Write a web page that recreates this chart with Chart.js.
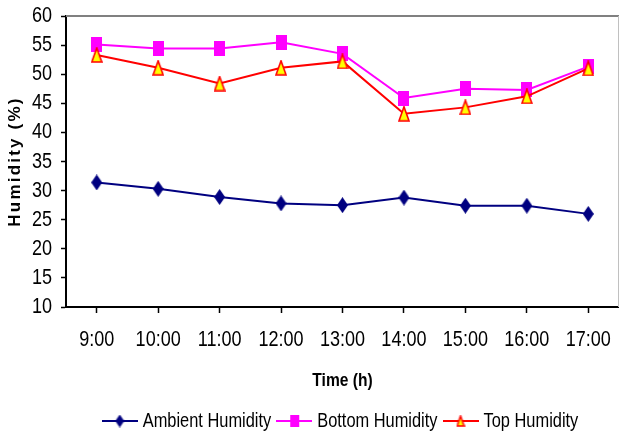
<!DOCTYPE html>
<html>
<head>
<meta charset="utf-8">
<script src="https://cdn.jsdelivr.net/npm/chart.js@4/dist/chart.umd.min.js"></script>
<style>
  body { margin: 0; background: #fff; overflow: hidden; }
  #wrap { width: 619px; height: 434px; overflow: hidden; }
  #humChart { display: block; }
</style>
</head>
<body>
<!-- canvas is a few px wider than the window: the layout keeps a small right gap we crop off -->
<div id="wrap"><canvas id="humChart" width="627" height="434"></canvas></div>
<script>
// data
const hours = ['9:00', '10:00', '11:00', '12:00', '13:00', '14:00', '15:00', '16:00', '17:00'];
const ambientHumidity = [31.4, 30.3, 28.9, 27.8, 27.5, 28.8, 27.4, 27.4, 26.0];
const bottomHumidity = [55.1, 54.4, 54.4, 55.5, 53.5, 45.9, 47.5, 47.3, 51.3];
const topHumidity = [53.3, 51.1, 48.4, 51.1, 52.2, 43.2, 44.3, 46.2, 51.0];
const seriesNames = ['Ambient Humidity', 'Bottom Humidity', 'Top Humidity'];

// no Arial Narrow here, so "Arial Narrow" text is squeezed Liberation Sans (see below)
const NARROW = "'Arial Narrow', 'Liberation Sans', sans-serif";
const TITLE = "Helvetica, 'Liberation Sans', sans-serif";
const SQUEEZE = 0.82;

const canvas = document.getElementById('humChart');
const ctx = canvas.getContext('2d');
const rawFill = ctx.fillText.bind(ctx);
const rawMeasure = ctx.measureText.bind(ctx);
ctx.fillText = function (text, x, y, maxWidth) {
  if (this.font.includes('Narrow')) {
    this.save();
    this.translate(x, y);
    this.scale(SQUEEZE, 1);
    rawFill(text, 0, 0);
    this.restore();
  } else if (this.font.includes('Helvetica')) {
    const old = this.letterSpacing;
    this.letterSpacing = '2.2px';
    rawFill(text, x, y);
    this.letterSpacing = old;
  } else {
    maxWidth === undefined ? rawFill(text, x, y) : rawFill(text, x, y, maxWidth);
  }
};
ctx.measureText = function (text) {
  const m = rawMeasure(text);
  if (!this.font.includes('Narrow')) return m;
  return { width: m.width * SQUEEZE, actualBoundingBoxAscent: m.actualBoundingBoxAscent,
    actualBoundingBoxDescent: m.actualBoundingBoxDescent };
};

// marker shapes (Excel style, a bit taller than wide)
function marker(kind, w, h) {
  const c = document.createElement('canvas');
  c.width = w; c.height = h;
  const g = c.getContext('2d');
  g.beginPath();
  if (kind === 'diamond') {
    g.moveTo(w / 2, 0); g.lineTo(w, h / 2); g.lineTo(w / 2, h); g.lineTo(0, h / 2);
    g.closePath();
    g.fillStyle = '#000080'; g.fill();
  } else if (kind === 'square') {
    g.fillStyle = '#ff00ff'; g.fillRect(0, 0, w, h);
  } else {
    g.moveTo(w / 2, 1); g.lineTo(w - 1, h - 1); g.lineTo(1, h - 1);
    g.closePath();
    g.fillStyle = '#ffff00'; g.fill();
    g.lineWidth = 1.6; g.strokeStyle = '#ff0000'; g.stroke();
  }
  return c;
}

// legend glyph: short line with the marker in the middle
function legendGlyph(kind, color) {
  const w = 36, h = 16;
  const c = document.createElement('canvas');
  c.width = w; c.height = h;
  const g = c.getContext('2d');
  g.strokeStyle = color; g.lineWidth = 2;
  g.beginPath(); g.moveTo(0, h / 2); g.lineTo(w, h / 2); g.stroke();
  const m = kind === 'diamond' ? marker(kind, 9, 13) : marker(kind, 9, 12);
  g.drawImage(m, (w - m.width) / 2, (h - m.height) / 2);
  return c;
}

const glyphs = [legendGlyph('diamond', '#000080'), legendGlyph('square', '#ff00ff'), legendGlyph('triangle', '#ff0000')];

// plot area frame: grey top edge, light grey right edge
const frame = {
  id: 'frame',
  beforeDatasetsDraw(chart) {
    const { ctx, chartArea: a } = chart;
    ctx.save();
    ctx.strokeStyle = '#808080'; ctx.lineWidth = 2;
    ctx.beginPath(); ctx.moveTo(a.left, a.top); ctx.lineTo(a.right, a.top); ctx.stroke();
    ctx.strokeStyle = '#c0c0c0'; ctx.lineWidth = 1;
    ctx.beginPath(); ctx.moveTo(a.right - 0.5, a.top); ctx.lineTo(a.right - 0.5, a.bottom); ctx.stroke();
    ctx.restore();
  }
};

new Chart(ctx, {
  type: 'line',
  data: {
    labels: hours,
    datasets: [
      {
        label: seriesNames[0], data: ambientHumidity, order: 2,
        borderColor: '#000080', borderWidth: 2,
        pointStyle: marker('diamond', 11, 16), pointRadius: 6
      },
      {
        label: seriesNames[1], data: bottomHumidity, order: 1,
        borderColor: '#ff00ff', borderWidth: 2,
        pointStyle: marker('square', 11, 15), pointRadius: 6
      },
      {
        label: seriesNames[2], data: topHumidity, order: 0,
        borderColor: '#ff0000', borderWidth: 2,
        pointStyle: marker('triangle', 12, 16), pointRadius: 6
      }
    ]
  },
  options: {
    responsive: false,
    maintainAspectRatio: false,
    animation: false,
    layout: { padding: { top: 16, right: 1, left: 0, bottom: -7 } },
    plugins: {
      tooltip: { enabled: false },
      legend: {
        position: 'bottom',
        fullSize: false,
        labels: {
          usePointStyle: true,
          pointStyleWidth: 26,
          padding: 10,
          color: '#000',
          font: { family: NARROW, size: 20 },
          generateLabels(chart) {
            return chart.data.datasets.map((ds, i) => ({
              text: ds.label, datasetIndex: i, pointStyle: glyphs[i],
              fillStyle: ds.borderColor, strokeStyle: ds.borderColor, lineWidth: 0,
              hidden: false, fontColor: '#000'
            }));
          }
        }
      }
    },
    scales: {
      x: {
        offset: true,
        afterFit: (s) => { s.height = 94; s.paddingLeft = 0; s.paddingRight = 0; },
        grid: { drawOnChartArea: false, tickLength: 6, tickColor: '#000', tickWidth: 1.5 },
        border: { color: '#000', width: 2 },
        ticks: { color: '#000', padding: 14, maxRotation: 0, autoSkip: false, font: { family: NARROW, size: 22 } },
        title: {
          display: true, text: 'Time (h)', color: '#000',
          padding: { top: 0, bottom: 9 },
          font: { family: NARROW, size: 19, weight: 'bold' }
        }
      },
      y: {
        min: 10, max: 60,
        afterFit: (s) => { s.width = 66; s.paddingTop = 0; s.paddingBottom = 0; },
        grid: { drawOnChartArea: false, tickLength: 5, tickColor: '#000', tickWidth: 1.5 },
        border: { color: '#000', width: 2 },
        ticks: { stepSize: 5, autoSkip: false, color: '#000', padding: 9, font: { family: NARROW, size: 22 } },
        title: {
          display: true, text: 'Humidity (%)', color: '#000',
          padding: { top: 5, bottom: 0 },
          font: { family: TITLE, size: 17, weight: 'bold' }
        }
      }
    }
  },
  plugins: [frame]
});
</script>
</body>
</html>
